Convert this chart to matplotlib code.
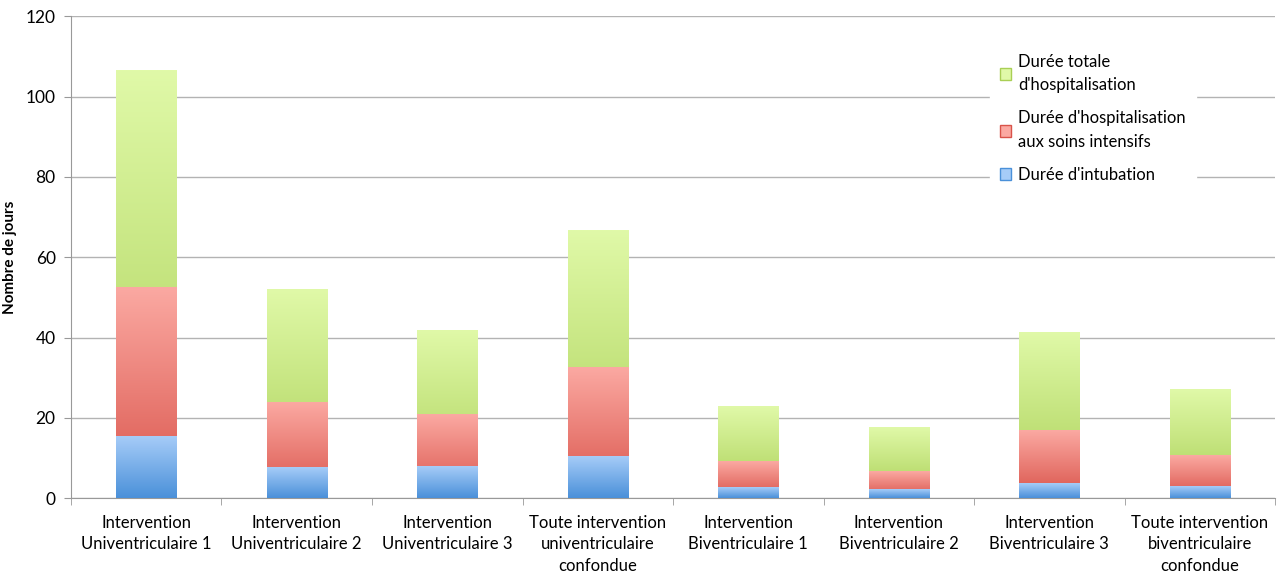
import numpy as np
import matplotlib
matplotlib.use("Agg")
import matplotlib.pyplot as plt
from matplotlib.colors import LinearSegmentedColormap
from matplotlib.patches import Patch

plt.rcParams['font.family'] = ['Lato', 'DejaVu Sans']

categories = [
    "Intervention\nUniventriculaire 1",
    "Intervention\nUniventriculaire 2",
    "Intervention\nUniventriculaire 3",
    "Toute intervention\nuniventriculaire\nconfondue",
    "Intervention\nBiventriculaire 1",
    "Intervention\nBiventriculaire 2",
    "Intervention\nBiventriculaire 3",
    "Toute intervention\nbiventriculaire\nconfondue",
]
# durations in days (total includes ICU stay, which includes intubation)
total_stay = [106.5, 51.8, 41.8, 66.7, 22.7, 17.6, 41.1, 27.1]
icu_stay = [52.5, 23.7, 20.7, 32.4, 9.0, 6.7, 16.7, 10.7]
intubation = [15.2, 7.5, 7.9, 10.3, 2.7, 2.2, 3.6, 2.8]

series = [
    ("Durée totale\nd'hospitalisation", total_stay, "#a9cf55", "#e0f9a8"),
    ("Durée d'hospitalisation\naux soins intensifs", icu_stay, "#d9534a", "#fba9a2"),
    ("Durée d'intubation", intubation, "#4a90d9", "#a6ccf8"),
]

fig = plt.figure(figsize=(12.79, 5.78), dpi=100)
ax = fig.add_axes([0.0555, 0.138, 0.9414, 0.834])

width = 0.4
x = np.arange(len(categories))
grad = np.linspace(0, 1, 256).reshape(-1, 1)

# overlapping bars, each filled with a vertical gradient
for label, vals, dark, light in series:
    cmap = LinearSegmentedColormap.from_list(label, [dark, light])
    for xi, v in zip(x, vals):
        ax.imshow(grad, cmap=cmap, origin='lower', aspect='auto',
                  extent=[xi - width / 2, xi + width / 2, 0, v], zorder=3)

ax.set_xlim(-0.5, len(categories) - 0.5)
ax.set_ylim(0, 120)
ax.set_yticks(np.arange(0, 121, 20))
ax.yaxis.grid(True, color='#b3b3b3', linewidth=1)
ax.set_axisbelow(True)

ax.set_xticks(x)
ax.set_xticklabels(categories, fontsize=12, linespacing=1.42)
ax.set_xticks(np.arange(-0.5, len(categories)), minor=True)
ax.tick_params(axis='x', which='major', length=0, pad=12)
ax.tick_params(axis='x', which='minor', length=5, color='#999999')
ax.tick_params(axis='y', length=5, color='#999999', labelsize=12.5, pad=6)

for side in ['top', 'right']:
    ax.spines[side].set_visible(False)
for side in ['left', 'bottom']:
    ax.spines[side].set_color('#999999')

ax.set_ylabel("Nombre de jours", fontsize=11, fontweight='bold', labelpad=6)

handles = [Patch(facecolor=light, label=label) for label, vals, dark, light in series]
leg = ax.legend(handles=handles, loc='upper left', bbox_to_anchor=(0.756, 0.96),
                frameon=True, fontsize=12, handlelength=0.7, handleheight=0.7,
                labelspacing=1.05, handletextpad=0.4, borderpad=0.6)
leg.get_frame().set_edgecolor('white')
leg.get_frame().set_alpha(1)
for t in leg.get_texts():
    t.set_linespacing(1.55)
for h, (label, vals, dark, light) in zip(leg.legend_handles, series):
    h.set_facecolor(light)
    h.set_edgecolor(dark)
leg.set_zorder(5)

fig.savefig("out.png", dpi=100)
